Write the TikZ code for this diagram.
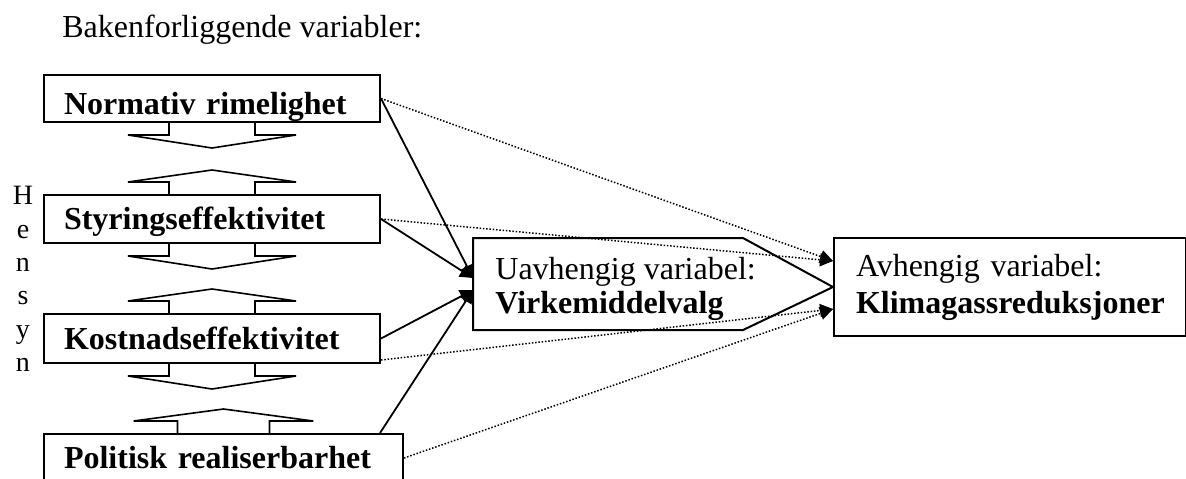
\documentclass[tikz,border=0pt]{standalone}
\usepackage{fontspec}
\setmainfont{Liberation Serif}
\usetikzlibrary{arrows.meta}
\tikzset{
    vbox/.style = {draw, line width = 1pt, anchor = north west, inner xsep = 10pt, inner ysep = 0pt,
        text height = 17pt, text depth = 7pt, align = left, font = \fontsize{16}{17}\selectfont\bfseries},
    link/.style = {line width = 0.9pt, -{Triangle[length = 6.5pt, width = 6.5pt]}},
    dotlink/.style = {line width = 0.75pt, dash pattern = on 0.75pt off 0.9pt, -{Triangle[length = 6.5pt, width = 6.5pt]}},
    pics/downarr/.style = {code = {\draw [line width = 0.8pt] (-43, 0) -- (-43, 12) -- (-84, 12) -- (0, 25) -- (84, 12) -- (43, 12) -- (43, 0);}},
    pics/uparr/.style = {code = {\draw [line width = 0.8pt] (-43, 0) -- (-43, -12) -- (-84, -12) -- (0, -24) -- (84, -12) -- (43, -12) -- (43, 0);}}
}
\begin{document}
\begin{tikzpicture}[x = 0.5pt, y = -0.5pt]
        \useasboundingbox (0, 0) rectangle (1186, 478);
        \clip (0, 0) rectangle (1186, 478);
        \node [anchor = base west, inner sep = 0pt, font = \fontsize{16}{17}\selectfont] (title) at (62, 37) {Bakenforliggende variabler:};
        \node [anchor = north, inner sep = 0pt, align = center, font = \fontsize{14}{16.7}\selectfont] (hensyn) at (23, 186) {H\\e\\n\\s\\y\\n};
        \node [vbox, text width = 148pt, text height = 19.5pt, text depth = 4pt] (norm) at (43, 74) {Normativ rimelighet};
        \node [vbox, text width = 148pt] (styr) at (43, 194) {Styringseffektivitet};
        \node [vbox, text width = 148pt, text height = 17.5pt] (kost) at (43, 313) {Kostnadseffektivitet};
        \node [vbox, text width = 159.5pt] (pol) at (43, 433) {Politisk realiserbarhet};
        \pic at (norm.south) {downarr};
        \pic at (styr.north) {uparr};
        \pic at (styr.south) {downarr};
        \pic at (kost.north) {uparr};
        \pic at (kost.south) {downarr};
        \pic [xscale = 1.07] at (pol.north) {uparr};
        \node [draw, line width = 1pt, anchor = north west, minimum width = 176pt, minimum height = 49pt, inner xsep = 11pt,
            text width = 154pt, align = left, font = \fontsize{16}{17}\selectfont] (avh) at (833, 237)
            {Avhengig variabel:\\[1.5pt]\textbf{Klimagassreduksjoner}};
        \draw [line width = 1pt] (473, 238) -- (743, 238) -- (avh.west) -- (743, 330) -- (473, 330) -- cycle;
        \node [anchor = north west, inner sep = 0pt, align = left, font = \fontsize{16}{17}\selectfont] (vmtext) at (495, 257)
            {Uavhengig variabel:\\\textbf{Virkemiddelvalg}};
        \coordinate (vmin1) at (473, 278);
        \coordinate (vmin2) at (473, 290);
        \draw [link] (norm.east) -- (vmin1);
        \draw [link] (styr.east) -- (vmin1);
        \draw [link] (kost.east) -- (vmin2);
        \draw [link] ([xshift = -12pt]pol.north east) -- (vmin2);
        \draw [dotlink] (norm.east) -- ([yshift = 13pt]avh.west);
        \draw [dotlink] (styr.east) -- ([yshift = 13pt]avh.west);
        \draw [dotlink] ([yshift = 2pt]kost.south east) -- ([yshift = -11pt]avh.west);
        \draw [dotlink] (pol.east) -- ([yshift = -11pt]avh.west);
    \end{tikzpicture}
\end{document}
